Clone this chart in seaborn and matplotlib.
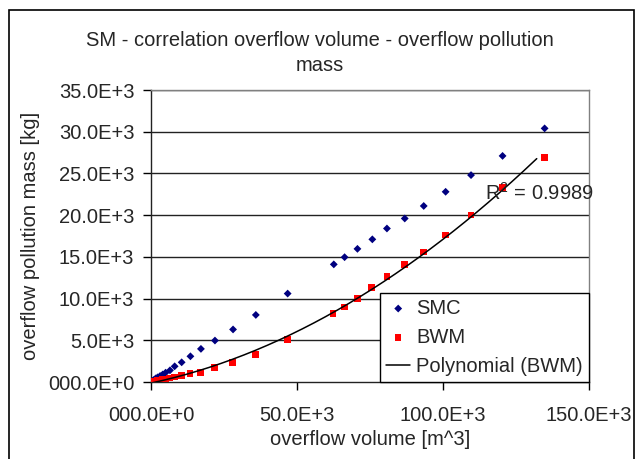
import numpy as np
import pandas as pd
import matplotlib
matplotlib.use("Agg")
import matplotlib.pyplot as plt
from matplotlib.patches import Rectangle
import seaborn as sns

# overflow volume [m^3] and pollution mass [kg] per event
smc_volume = [300, 800, 1200, 1700, 2300, 3100, 4000, 5000, 6500, 8100, 10500, 13500,
              17100, 21900, 28100, 35900, 46800, 62600, 66300, 70700, 75800, 80800,
              86900, 93400, 100900, 109600, 120400, 134800]
smc_mass = [80, 200, 300, 450, 560, 720, 900, 1120, 1400, 1880, 2360, 3080,
            3970, 4970, 6300, 8040, 10600, 14100, 14960, 15960, 17100, 18400,
            19600, 21100, 22800, 24800, 27100, 30400]

bwm_volume = [300, 800, 1300, 2000, 3000, 4000, 5000, 6400, 8000, 10500, 13400,
              16900, 21700, 27900, 35800, 46800, 62400, 66300, 70700, 75600, 80900,
              86900, 93400, 100900, 109600, 120400, 134800]
bwm_mass = [30, 60, 100, 150, 230, 300, 380, 480, 600, 770, 1000,
            1160, 1730, 2320, 3320, 5090, 8200, 9000, 10000, 11300, 12650,
            14100, 15600, 17600, 20000, 23300, 26900]

r2_label = "R$^2$ = 0.9989"

x_ticks = [0, 50000, 100000, 150000]
x_tick_labels = ["000.0E+0", "50.0E+3", "100.0E+3", "150.0E+3"]
y_ticks = [0, 5000, 10000, 15000, 20000, 25000, 30000, 35000]
y_tick_labels = ["000.0E+0", "5.0E+3", "10.0E+3", "15.0E+3", "20.0E+3",
                 "25.0E+3", "30.0E+3", "35.0E+3"]

sns.set_theme(style="white")
plt.rcParams["font.family"] = ["Liberation Sans", "DejaVu Sans"]
plt.rcParams["mathtext.fontset"] = "custom"
plt.rcParams["mathtext.rm"] = "Liberation Sans"
fs = 14.5

fig = plt.figure(figsize=(6.36, 4.59), dpi=100)
ax = fig.add_axes([151 / 636, 1 - 382 / 459, 438 / 636, 292 / 459])

df_smc = pd.DataFrame({"volume": smc_volume, "mass": smc_mass})
df_bwm = pd.DataFrame({"volume": bwm_volume, "mass": bwm_mass})

sns.scatterplot(data=df_smc, x="volume", y="mass", ax=ax, marker="D", s=16,
                color="#000080", edgecolor="none", label="SMC", zorder=3)
sns.scatterplot(data=df_bwm, x="volume", y="mass", ax=ax, marker="s", s=22,
                color="#FF0000", edgecolor="none", label="BWM", zorder=3)

# second-order polynomial trend through the BWM series
coef = np.polyfit(bwm_volume, bwm_mass, 2)
xs = np.linspace(0, max(bwm_volume) * 0.98, 200)
sns.lineplot(x=xs, y=np.polyval(coef, xs), ax=ax, color="black", lw=1.1,
             label="Polynomial (BWM)", zorder=4)

ax.text(114500, 22700, r2_label, fontsize=fs, ha="left", va="center", zorder=5)

ax.set_xlim(0, 150000)
ax.set_ylim(0, 35000)
ax.set_xticks(x_ticks)
ax.set_xticklabels(x_tick_labels, fontsize=fs)
ax.set_yticks(y_ticks)
ax.set_yticklabels(y_tick_labels, fontsize=fs)
ax.tick_params(axis="both", direction="out", length=6, width=1, color="black",
               bottom=True, left=True)
ax.tick_params(axis="x", pad=11)
ax.tick_params(axis="y", pad=6)

for yv in y_ticks[1:]:
    ax.axhline(yv, color="#222222", lw=1, zorder=1)

for side in ["top", "right"]:
    ax.spines[side].set_color("#808080")
    ax.spines[side].set_linewidth(1)
for side in ["left", "bottom"]:
    ax.spines[side].set_color("#222222")
    ax.spines[side].set_linewidth(1)

ax.set_xlabel("overflow volume [m^3]", fontsize=fs, labelpad=4)
ax.set_ylabel("overflow pollution mass [kg]", fontsize=fs, labelpad=6)

leg = ax.legend(loc="lower right", bbox_to_anchor=(1.0, 0.0), frameon=True,
                fancybox=False, framealpha=1, edgecolor="black", fontsize=fs,
                borderaxespad=0, handlelength=1.2, handletextpad=0.3,
                borderpad=0.3, labelspacing=0.5)
leg.get_frame().set_linewidth(1)

fig.text(0.503, 0.912, "SM - correlation overflow volume - overflow pollution",
         ha="center", va="center", fontsize=fs)
fig.text(0.503, 0.857, "mass", ha="center", va="center", fontsize=fs)

fig.patches.append(Rectangle((9 / 636, -0.02), 625 / 636, 1 - 10 / 459 + 0.02,
                             transform=fig.transFigure, fill=False,
                             edgecolor="black", lw=1.2))

fig.savefig("out.png", dpi=100)
